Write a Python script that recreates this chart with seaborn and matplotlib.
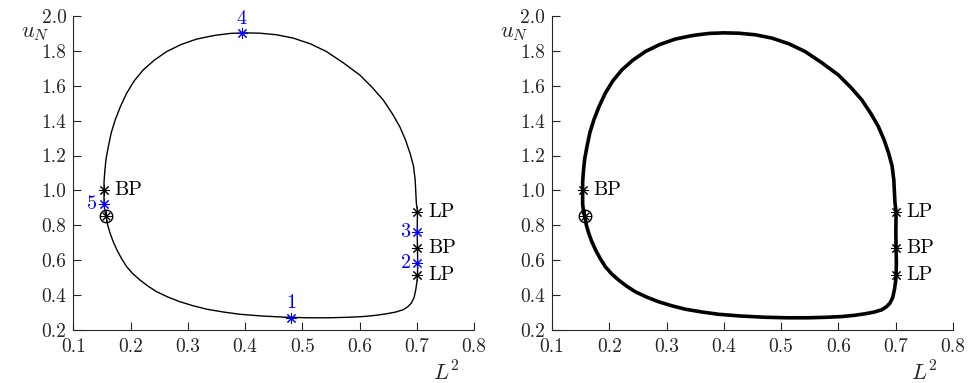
import numpy as np
import pandas as pd
import matplotlib
matplotlib.use("Agg")
import matplotlib.pyplot as plt
import seaborn as sns

# ---- data ----
curve_L2 = [0.157, 0.160, 0.164, 0.169, 0.176, 0.184, 0.193, 0.204, 0.216, 0.230,
            0.245, 0.265, 0.286, 0.309, 0.333, 0.362, 0.391, 0.430, 0.472, 0.510,
            0.548, 0.580, 0.606, 0.628, 0.647, 0.663, 0.676, 0.684, 0.690, 0.695,
            0.698, 0.700, 0.701, 0.7015, 0.701, 0.7005, 0.701, 0.699, 0.697, 0.694,
            0.688, 0.680, 0.670, 0.657, 0.641, 0.622, 0.600, 0.572, 0.542, 0.514,
            0.484, 0.455, 0.426, 0.400, 0.375, 0.350, 0.338, 0.315, 0.288, 0.263,
            0.241, 0.222, 0.206, 0.193, 0.182, 0.173, 0.166, 0.161, 0.157, 0.155,
            0.1535, 0.1534, 0.1535, 0.155, 0.157]
curve_uN = [0.855, 0.800, 0.756, 0.710, 0.659, 0.610, 0.563, 0.522, 0.487, 0.452,
            0.420, 0.389, 0.362, 0.339, 0.319, 0.303, 0.290, 0.280, 0.273, 0.270,
            0.270, 0.273, 0.277, 0.284, 0.293, 0.303, 0.316, 0.333, 0.353, 0.385,
            0.430, 0.475, 0.515, 0.580, 0.670, 0.760, 0.877, 0.930, 1.060, 1.140,
            1.213, 1.290, 1.366, 1.440, 1.519, 1.590, 1.662, 1.730, 1.796, 1.840,
            1.873, 1.892, 1.901, 1.903, 1.900, 1.890, 1.883, 1.867, 1.836, 1.796,
            1.746, 1.691, 1.627, 1.557, 1.480, 1.404, 1.330, 1.251, 1.180, 1.117,
            1.050, 0.993, 0.920, 0.880, 0.855]

special_labels = ["BP", "LP", "BP", "LP"]
special_L2 = [0.1534, 0.701, 0.701, 0.701]
special_uN = [1.000, 0.877, 0.670, 0.515]

start_L2 = [0.157]
start_uN = [0.855]

num_labels = ["1", "2", "3", "4", "5"]
num_L2 = [0.480, 0.701, 0.701, 0.394, 0.1530]
num_uN = [0.270, 0.584, 0.762, 1.901, 0.920]

x_ticks = [0.1, 0.2, 0.3, 0.4, 0.5, 0.6, 0.7, 0.8]
y_ticks = [0.2, 0.4, 0.6, 0.8, 1.0, 1.2, 1.4, 1.6, 1.8, 2.0]

# ---- style ----
sns.set_style("ticks")
plt.rcParams["font.family"] = ["cmr10", "DejaVu Serif"]
plt.rcParams["mathtext.fontset"] = "cm"
plt.rcParams["axes.formatter.use_mathtext"] = True
plt.rcParams["font.size"] = 14

curve = pd.DataFrame({"L2": curve_L2, "uN": curve_uN})
spec = pd.DataFrame({"L2": special_L2, "uN": special_uN, "lab": special_labels})
nums = pd.DataFrame({"L2": num_L2, "uN": num_uN, "lab": num_labels})
start = pd.DataFrame({"L2": start_L2, "uN": start_uN})

fig = plt.figure(figsize=(9.75, 3.83), dpi=100)
ax1 = fig.add_axes([0.0753, 0.1384, 0.411, 0.820])
ax2 = fig.add_axes([0.5662, 0.1384, 0.411, 0.820])

ast = (8, 2, 0)
BLUE = (0, 0, 1)

for ax, lw, show_nums in [(ax1, 1.0, True), (ax2, 2.6, False)]:
    sns.lineplot(data=curve, x="L2", y="uN", sort=False, estimator=None,
                 color="black", lw=lw, ax=ax, zorder=2)
    ax.plot(start["L2"], start["uN"], marker="o", ms=9, mfc="none", mec="black",
            mew=1.0, ls="none", zorder=4)
    ax.plot(start["L2"], start["uN"], marker=ast, ms=7.5, color="black",
            mew=0.7, ls="none", zorder=5)
    ax.plot(spec["L2"], spec["uN"], marker=ast, ms=8, color="black",
            mew=0.75, ls="none", zorder=5)
    for _, r in spec.iterrows():
        ax.annotate(r["lab"], (r["L2"], r["uN"]), xytext=(7.5, 0),
                    textcoords="offset points", ha="left", va="center",
                    fontsize=14.5, color="black")
    if show_nums:
        ax.plot(nums["L2"], nums["uN"], marker=ast, ms=8, color=BLUE,
                mew=0.75, ls="none", zorder=6)
        offs = {"1": ((0, 4), "center", "bottom"),
                "2": ((-5, 0), "right", "center"),
                "3": ((-5, 0), "right", "center"),
                "4": ((0, 4), "center", "bottom"),
                "5": ((-5, 0), "right", "center")}
        for _, r in nums.iterrows():
            o, ha, va = offs[r["lab"]]
            ax.annotate(r["lab"], (r["L2"], r["uN"]), xytext=o,
                        textcoords="offset points", ha=ha, va=va,
                        fontsize=14.5, color=BLUE)

    ax.set_xlim(0.1, 0.8)
    ax.set_ylim(0.2, 2.0)
    ax.set_xticks(x_ticks)
    ax.set_yticks(y_ticks)
    ax.set_xticklabels([f"{v:.1f}" for v in x_ticks])
    ax.set_yticklabels([f"{v:.1f}" for v in y_ticks])
    ax.tick_params(direction="in", length=6, width=0.8, labelsize=14)
    ax.tick_params(axis="x", pad=6)
    ax.tick_params(axis="y", pad=5)
    ax.set_xlabel("")
    ax.set_ylabel("")
    sns.despine(ax=ax)
    for s in ["left", "bottom"]:
        ax.spines[s].set_linewidth(0.8)
    ax.text(-0.095, 0.945, r"$u_N$", transform=ax.transAxes, ha="center",
            va="center", fontsize=16)
    ax.text(0.93, -0.135, r"$L^2$", transform=ax.transAxes, ha="center",
            va="center", fontsize=16)

fig.savefig("out.png", dpi=100)
